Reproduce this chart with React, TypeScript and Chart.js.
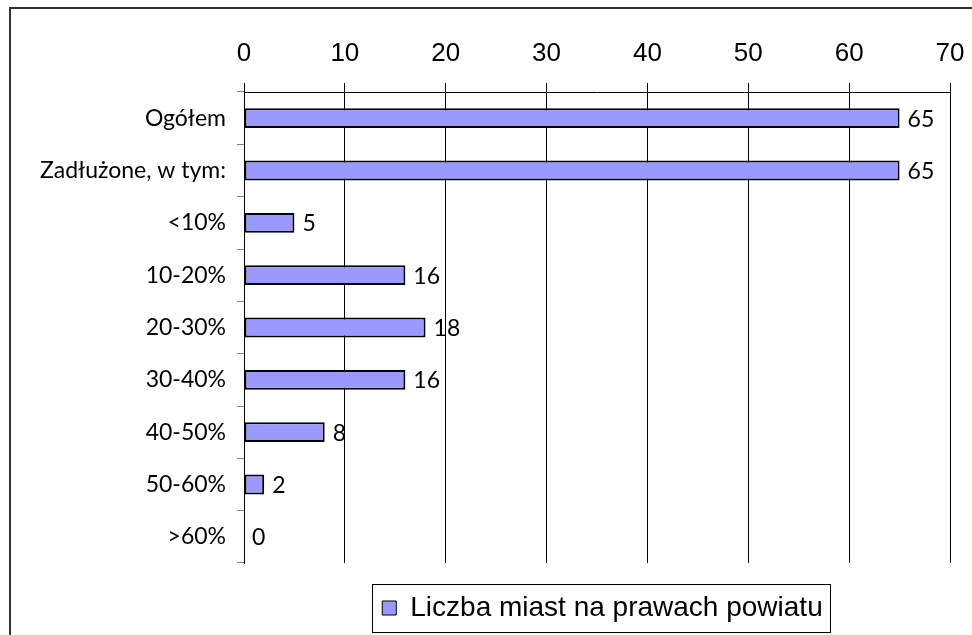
import React, { useEffect, useRef } from 'react';
import { Chart, registerables } from 'chart.js';

Chart.register(...registerables);

const categories = ['Ogółem', 'Zadłużone, w tym:', '<10%', '10-20%', '20-30%', '30-40%', '40-50%', '50-60%', '>60%'];
const values = [65, 65, 5, 16, 18, 16, 8, 2, 0];
const xMin = 0;
const xMax = 70;
const xStep = 10;
const seriesLabel = 'Liczba miast na prawach powiatu';

const LABEL_FONT = 'Lato, "Open Sans", sans-serif';
const AXIS_FONT = '"Liberation Sans", Arial, sans-serif';

const frameBorder = {
  id: 'frameBorder',
  afterDraw(chart: any) {
    const ctx = chart.ctx;
    ctx.save();
    ctx.strokeStyle = '#333333';
    ctx.lineWidth = 2;
    ctx.beginPath();
    ctx.moveTo(10, chart.height + 2);
    ctx.lineTo(10, 8);
    ctx.lineTo(chart.width + 2, 8);
    ctx.stroke();
    ctx.restore();
  },
};

const valueLabels = {
  id: 'valueLabels',
  afterDatasetsDraw(chart: any) {
    const ctx = chart.ctx;
    const meta = chart.getDatasetMeta(0);
    ctx.save();
    ctx.fillStyle = '#000';
    ctx.font = `23px ${LABEL_FONT}`;
    ctx.textAlign = 'left';
    ctx.textBaseline = 'middle';
    meta.data.forEach((el: any, i: number) => {
      ctx.fillText(String(chart.data.datasets[0].data[i]), el.x + 8, el.y + 1);
    });
    ctx.restore();
  },
};

const legendShift = {
  id: 'legendShift',
  afterLayout(chart: any) {
    const lg = chart.legend;
    if (!lg) return;
    const target = (chart.chartArea.left + chart.chartArea.right) / 2 + 5.5;
    const cur = (lg.left + lg.right) / 2;
    const d = target - cur;
    lg.left += d;
    lg.right += d;
  },
  afterDraw(chart: any) {
    const lg = chart.legend;
    if (!lg || !lg.legendHitBoxes || !lg.legendHitBoxes.length) return;
    const hb = lg.legendHitBoxes[0];
    const cy = hb.top + hb.height / 2;
    const ctx = chart.ctx;
    ctx.save();
    ctx.strokeStyle = '#000';
    ctx.lineWidth = 1;
    ctx.strokeRect(Math.round(hb.left - 10) + 0.5, Math.round(cy - 24.5) + 0.5, Math.round(hb.width + 18), 48);
    ctx.restore();
  },
};

export default function App() {
  const ref = useRef<HTMLCanvasElement | null>(null);

  useEffect(() => {
    if (!ref.current) return;
    const chart = new Chart(ref.current, {
      type: 'bar',
      data: {
        labels: categories,
        datasets: [
          {
            label: seriesLabel,
            data: values,
            backgroundColor: '#9999FF',
            borderColor: '#000000',
            borderWidth: 2,
            borderSkipped: false,
            categoryPercentage: 1,
            barPercentage: 0.38,
          },
        ],
      },
      options: {
        indexAxis: 'y',
        responsive: false,
        animation: false,
        devicePixelRatio: 1,
        layout: { padding: { left: 0, top: 0, right: 22, bottom: 3 } },
        scales: {
          x: {
            position: 'top',
            min: xMin,
            max: xMax,
            ticks: {
              stepSize: xStep,
              color: '#000',
              font: { family: AXIS_FONT, size: 26 },
              padding: 14,
            },
            grid: { color: '#000', lineWidth: 1, tickLength: 9, drawTicks: true },
            border: { display: true, color: '#000', width: 1 },
            afterFit(scale: any) {
              scale.height = 92;
              scale.paddingLeft = 0;
              scale.paddingRight = 0;
            },
          },
          y: {
            ticks: {
              color: '#000',
              font: { family: LABEL_FONT, size: 23 },
              padding: 11,
            },
            grid: { drawOnChartArea: false, color: '#808080', tickLength: 7 },
            border: { display: true, color: '#000', width: 1 },
            afterFit(scale: any) {
              scale.width = 244;
            },
          },
        },
        plugins: {
          legend: {
            display: true,
            position: 'bottom',
            labels: {
              color: '#000',
              font: { family: AXIS_FONT, size: 28 },
              boxWidth: 14,
              boxHeight: 14,
              padding: 31,
              generateLabels(chart: any) {
                const items = Chart.defaults.plugins.legend.labels.generateLabels(chart);
                return items.map((it: any) => ({ ...it, lineWidth: 1 }));
              },
            },
          },
          tooltip: { enabled: false },
        },
      },
      plugins: [frameBorder, valueLabels, legendShift],
    });
    return () => chart.destroy();
  }, []);

  return (
    <div style={{ position: 'fixed', left: 0, top: 0, width: 972, height: 635, background: '#fff' }}>
      <canvas ref={ref} width={972} height={635} />
    </div>
  );
}
